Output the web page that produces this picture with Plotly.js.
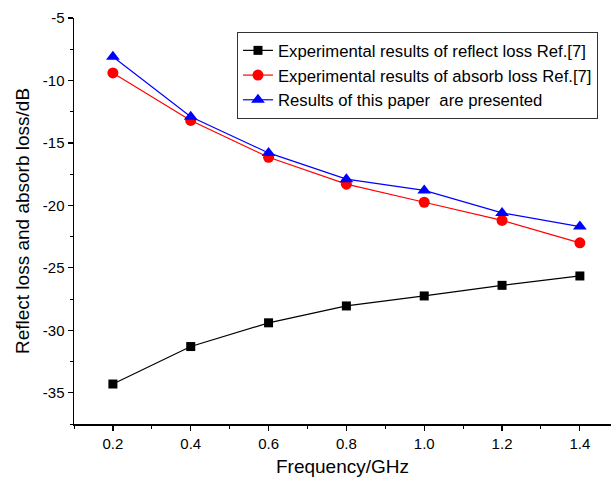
<!DOCTYPE html>
<html><head><meta charset="utf-8">
<script src="https://cdn.plot.ly/plotly-3.0.1.min.js"></script>
<style>body{margin:0;padding:0;background:#fff}#chart{width:611px;height:480px}</style>
</head><body><div id="chart"></div>
<script>
var freq = [0.2, 0.4, 0.6, 0.8, 1.0, 1.2, 1.4];
var reflectLoss = [-34.3, -31.3, -29.4, -28.05, -27.25, -26.4, -25.65];
var absorbLoss = [-9.4, -13.2, -16.15, -18.3, -19.75, -21.2, -23.0];
var thisPaper = [-8.1, -12.9, -15.8, -17.9, -18.8, -20.6, -21.7];
var names = ["Experimental results of reflect loss Ref.[7]",
             "Experimental results of absorb loss Ref.[7]",
             "Results of this paper  are presented"];
var xTickVals = [0.2, 0.4, 0.6, 0.8, 1.0, 1.2, 1.4];
var xTickText = ["0.2", "0.4", "0.6", "0.8", "1.0", "1.2", "1.4"];
var yTickVals = [-35, -30, -25, -20, -15, -10, -5];
var yTickText = ["-35", "-30", "-25", "-20", "-15", "-10", "-5"];

var traces = [
  {x: freq, y: reflectLoss, name: names[0], mode: 'lines+markers', type: 'scatter',
   line: {color: '#000', width: 1.2}, marker: {symbol: 'square', size: 9, color: '#000'}},
  {x: freq, y: absorbLoss, name: names[1], mode: 'lines+markers', type: 'scatter',
   line: {color: '#ff0000', width: 1.2}, marker: {symbol: 'circle', size: 11, color: '#ff0000'}},
  {x: freq, y: thisPaper, name: names[2], mode: 'lines+markers', type: 'scatter',
   line: {color: '#0000ff', width: 1.2}, marker: {symbol: 'triangle-up', size: 12, color: '#0000ff'}}
];
var layout = {
  width: 611, height: 480,
  margin: {l: 74, r: 0, t: 18, b: 56},
  paper_bgcolor: '#fff', plot_bgcolor: '#fff',
  font: {family: 'Liberation Sans, Arial, sans-serif', color: '#000', size: 15},
  showlegend: true,
  legend: {x: 0.3035, y: 0.9655, xanchor: 'left', yanchor: 'top',
           bordercolor: '#333', borderwidth: 1, bgcolor: '#fff',
           font: {size: 16.7, family: 'Liberation Sans, Arial, sans-serif'},
           tracegroupgap: 0, itemwidth: 30},
  xaxis: {range: [0.1, 1.48], tickvals: xTickVals, ticktext: xTickText,
          ticks: 'outside', ticklen: 5, tickwidth: 1.2, tickcolor: '#000',
          showline: true, linecolor: '#000', linewidth: 1.5, showgrid: false, zeroline: false,
          minor: {ticks: 'outside', dtick: 0.1, tick0: 0.1, ticklen: 3, tickcolor: '#000', tickwidth: 1, showgrid: false},
          tickfont: {size: 15},
          title: {text: 'Frequency/GHz', font: {size: 19}, standoff: 9}},
  yaxis: {range: [-37.5, -5], tickvals: yTickVals, ticktext: yTickText,
          ticks: 'outside', ticklen: 5, tickwidth: 1.2, tickcolor: '#000',
          showline: true, linecolor: '#000', linewidth: 1.5, showgrid: false, zeroline: false,
          minor: {ticks: 'outside', dtick: 2.5, tick0: -37.5, ticklen: 3, tickcolor: '#000', tickwidth: 1, showgrid: false},
          tickfont: {size: 15},
          title: {text: 'Reflect loss and absorb loss/dB', font: {size: 19}, standoff: 8}}
};
Plotly.newPlot('chart', traces, layout, {displayModeBar: false, staticPlot: true});
</script></body></html>
